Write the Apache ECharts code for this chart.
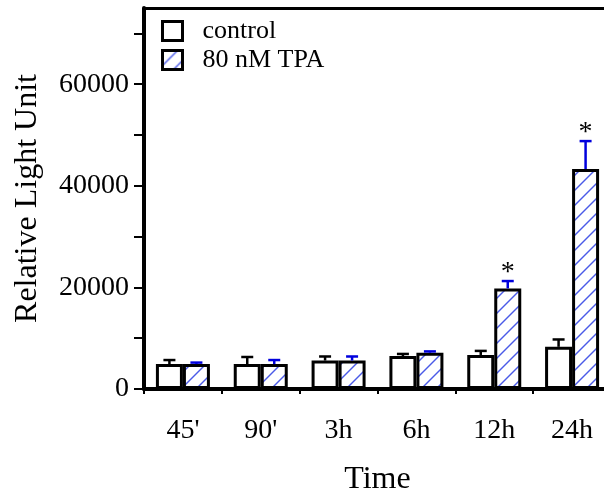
<!DOCTYPE html>
<html>
<head>
<meta charset="UTF-8">
<script src="https://cdn.jsdelivr.net/npm/echarts@6/dist/echarts.min.js"></script>
<title>Relative Light Unit</title>
<style>
body { margin: 0; background: #fff; }
#main { width: 604px; height: 493px; }
</style>
</head>
<body>
<div id="main"></div>
<script type="text/javascript">
// data
var times = ["45'", "90'", "3h", "6h", "12h", "24h"];
var control = [4900, 4900, 5600, 6500, 6700, 8300];
var controlErr = [800, 1400, 800, 400, 800, 1450];
var tpa = [4900, 4900, 5600, 7150, 19800, 43300];
var tpaErr = [300, 800, 800, 250, 1450, 5500];
var tpaStar = [0, 0, 0, 0, 1, 1];
var yTicks = [0, 10000, 20000, 30000, 40000, 50000, 60000, 70000];
var yLabels = [0, 20000, 40000, 60000];

var font = '"Liberation Serif", "Times New Roman", serif';

// diagonal hatch for the TPA bars
var hatch = document.createElement('canvas');
hatch.width = 15;
hatch.height = 15;
var ctx = hatch.getContext('2d');
ctx.fillStyle = '#fff';
ctx.fillRect(0, 0, 15, 15);
ctx.strokeStyle = '#4a5ae8';
ctx.lineWidth = 1.4;
for (var k = -1; k <= 1; k++) {
  ctx.beginPath();
  ctx.moveTo(k * 15 - 3, 18);
  ctx.lineTo(k * 15 + 18, -3);
  ctx.stroke();
}

var barW = 27;

function errorBars(vals, errs, side, color, stars) {
  return function (params, api) {
    var i = params.dataIndex;
    var base = api.coord([i, vals[i]]);
    var top = api.coord([i, vals[i] + errs[i]]);
    var x = base[0] + side * barW / 2;
    var kids = [
      { type: 'line', shape: { x1: x, y1: base[1], x2: x, y2: top[1] }, style: { stroke: color, lineWidth: 2.5 } },
      { type: 'line', shape: { x1: x - 6, y1: top[1], x2: x + 6, y2: top[1] }, style: { stroke: color, lineWidth: 2.5 } }
    ];
    if (stars && stars[i]) {
      kids.push({ type: 'text', x: x, y: top[1] - 8, style: {
        text: '*', fill: '#000', font: '28px ' + font, align: 'center', verticalAlign: 'middle' } });
    }
    return { type: 'group', children: kids };
  };
}

var myChart = echarts.init(document.getElementById('main'));
var option = {
  animation: false,
  grid: { left: 144, right: -7, top: 8, bottom: 104, outerBoundsMode: 'none', containLabel: false },
  legend: {
    data: ['control', '80 nM TPA'],
    orient: 'vertical',
    left: 161,
    top: 18,
    padding: 0,
    icon: 'rect',
    itemWidth: 20,
    itemHeight: 19,
    itemGap: 3,
    itemStyle: { borderWidth: 3 },
    textStyle: { fontFamily: font, fontSize: 26, color: '#000', lineHeight: 22, padding: [0, 0, 0, 15] }
  },
  xAxis: [{
    type: 'category',
    data: times,
    position: 'bottom',
    axisLine: { lineStyle: { color: '#000', width: 4 } },
    axisTick: { show: true, length: 5, lineStyle: { color: '#000', width: 2 } },
    axisLabel: { color: '#000', fontFamily: font, fontSize: 28, margin: 28 },
    name: 'Time',
    nameLocation: 'middle',
    nameGap: 75,
    nameTextStyle: { color: '#000', fontFamily: font, fontSize: 32 }
  }, {
    type: 'category',
    data: times,
    position: 'top',
    axisLine: { lineStyle: { color: '#000', width: 3 } },
    axisTick: { show: false },
    axisLabel: { show: false }
  }],
  yAxis: {
    type: 'value',
    min: 0,
    max: 75000,
    interval: 10000,
    splitLine: { show: false },
    axisLine: { show: true, lineStyle: { color: '#000', width: 4 } },
    axisTick: { show: true, length: 10, customValues: yTicks, lineStyle: { color: '#000', width: 2 } },
    axisLabel: {
      customValues: yLabels,
      color: '#000', fontFamily: font, fontSize: 28, margin: 15,
      formatter: function (v) { return String(v); }
    },
    name: 'Relative Light Unit',
    nameLocation: 'middle',
    nameRotate: 90,
    nameGap: 100,
    nameTextStyle: { color: '#000', fontFamily: font, fontSize: 32 }
  },
  series: [{
    name: 'control',
    type: 'bar',
    data: control,
    barWidth: barW,
    barGap: '0%',
    itemStyle: { color: '#fff', borderColor: '#000', borderWidth: 3 }
  }, {
    name: '80 nM TPA',
    type: 'bar',
    data: tpa,
    barWidth: barW,
    barGap: '0%',
    itemStyle: { color: { image: hatch, repeat: 'repeat' }, borderColor: '#000', borderWidth: 3 }
  }, {
    type: 'custom',
    data: control.map(function (v, i) { return [i, v + controlErr[i]]; }),
    encode: { x: 0, y: 1 },
    z: 5,
    renderItem: errorBars(control, controlErr, -1, '#000')
  }, {
    type: 'custom',
    data: tpa.map(function (v, i) { return [i, v + tpaErr[i]]; }),
    encode: { x: 0, y: 1 },
    z: 5,
    renderItem: errorBars(tpa, tpaErr, 1, '#0000dd', tpaStar)
  }]
};
myChart.setOption(option);
</script>
</body>
</html>
